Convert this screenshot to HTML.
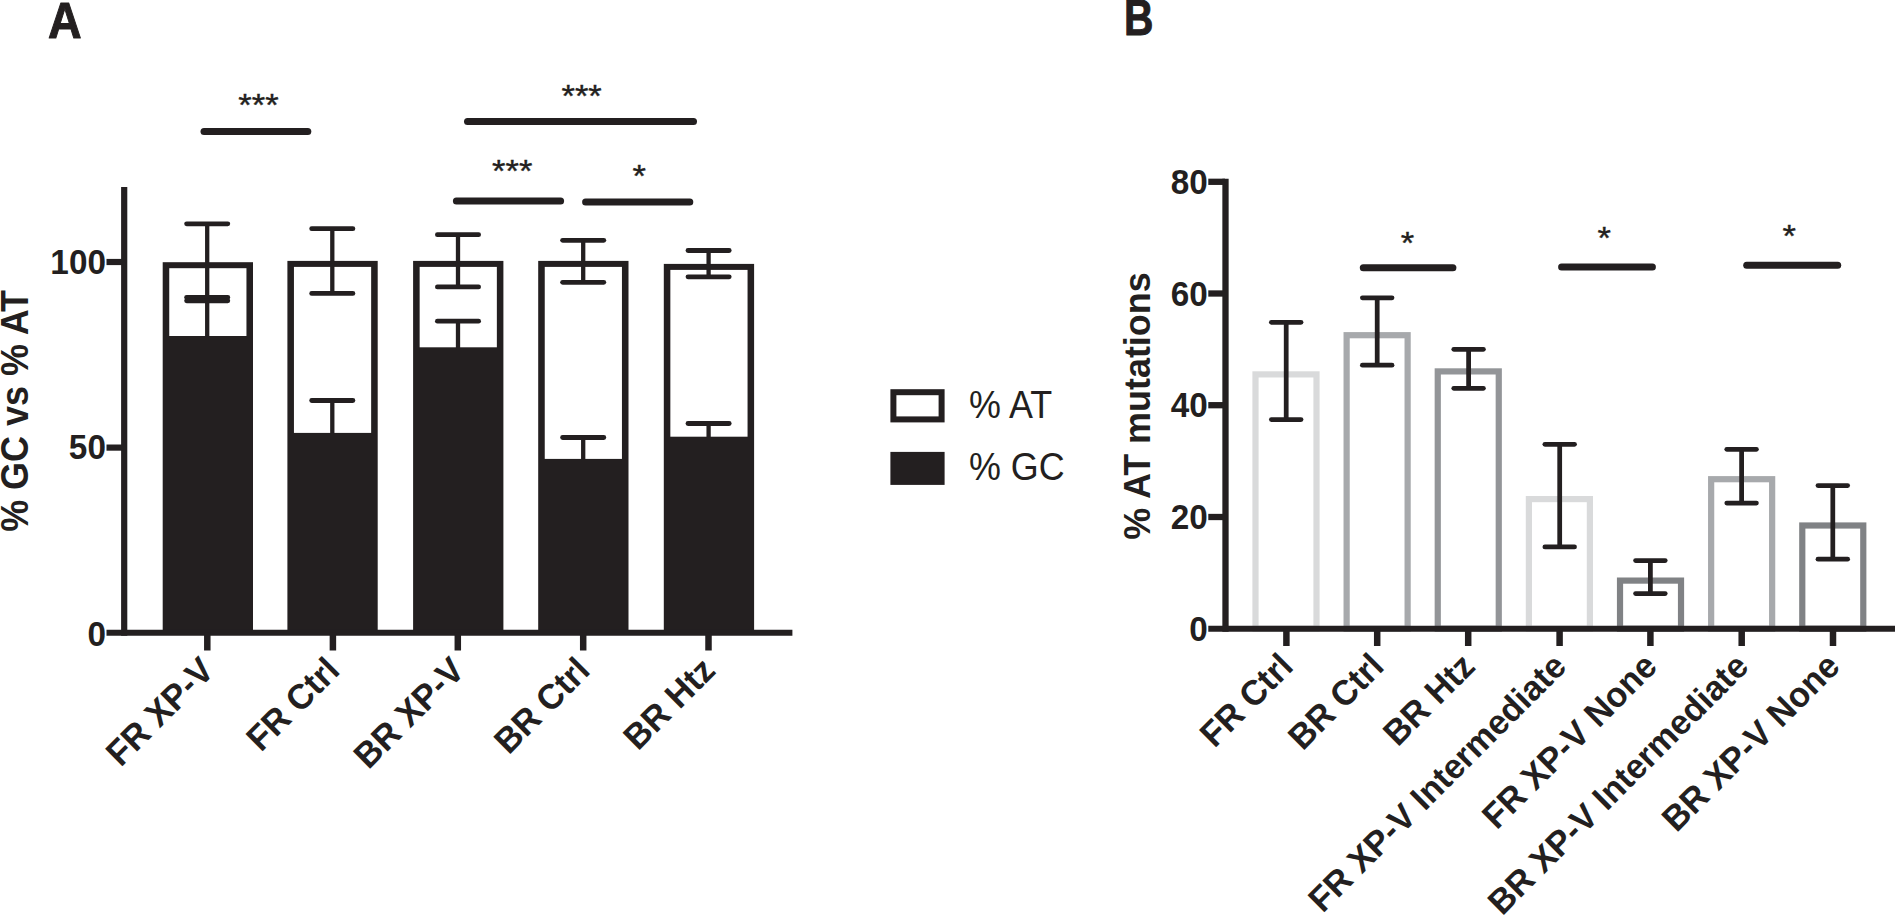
<!DOCTYPE html>
<html lang="en"><head><meta charset="utf-8"><title>Figure</title>
<style>
html,body{margin:0;padding:0;background:#fff;}
body{width:1895px;height:916px;overflow:hidden;}
svg{display:block;}
text{font-family:"Liberation Sans",sans-serif;fill:#231F20;}
</style></head><body>
<svg width="1895" height="916" viewBox="0 0 1895 916">
<rect x="0" y="0" width="1895" height="916" fill="#fff"/>
<rect x="162.70" y="262.20" width="90.30" height="370.60" fill="#231F20"/>
<rect x="169.25" y="268.20" width="77.20" height="67.80" fill="#fff"/>
<rect x="287.40" y="260.90" width="90.30" height="371.90" fill="#231F20"/>
<rect x="293.95" y="266.90" width="77.20" height="166.00" fill="#fff"/>
<rect x="413.10" y="260.90" width="90.30" height="371.90" fill="#231F20"/>
<rect x="419.65" y="266.90" width="77.20" height="80.40" fill="#fff"/>
<rect x="538.20" y="260.90" width="90.30" height="371.90" fill="#231F20"/>
<rect x="544.75" y="266.90" width="77.20" height="192.00" fill="#fff"/>
<rect x="663.80" y="263.90" width="90.30" height="368.90" fill="#231F20"/>
<rect x="670.35" y="269.90" width="77.20" height="166.80" fill="#fff"/>
<line x1="207.2" y1="223.8" x2="207.2" y2="336.5" stroke="#231F20" stroke-width="4.3" stroke-linecap="butt"/>
<line x1="186.6" y1="223.8" x2="227.79999999999998" y2="223.8" stroke="#231F20" stroke-width="4.8" stroke-linecap="round"/>
<line x1="186.6" y1="297.4" x2="227.79999999999998" y2="297.4" stroke="#231F20" stroke-width="4.8" stroke-linecap="round"/>
<line x1="186.6" y1="300.8" x2="227.79999999999998" y2="300.8" stroke="#231F20" stroke-width="4.8" stroke-linecap="round"/>
<line x1="332.3" y1="228.7" x2="332.3" y2="293.4" stroke="#231F20" stroke-width="4.3" stroke-linecap="butt"/>
<line x1="311.7" y1="228.7" x2="352.90000000000003" y2="228.7" stroke="#231F20" stroke-width="4.8" stroke-linecap="round"/>
<line x1="311.7" y1="293.4" x2="352.90000000000003" y2="293.4" stroke="#231F20" stroke-width="4.8" stroke-linecap="round"/>
<line x1="332.3" y1="400.5" x2="332.3" y2="433.5" stroke="#231F20" stroke-width="4.3" stroke-linecap="butt"/>
<line x1="311.7" y1="400.5" x2="352.90000000000003" y2="400.5" stroke="#231F20" stroke-width="4.8" stroke-linecap="round"/>
<line x1="458.0" y1="234.7" x2="458.0" y2="286.9" stroke="#231F20" stroke-width="4.3" stroke-linecap="butt"/>
<line x1="437.4" y1="234.7" x2="478.6" y2="234.7" stroke="#231F20" stroke-width="4.8" stroke-linecap="round"/>
<line x1="437.4" y1="286.9" x2="478.6" y2="286.9" stroke="#231F20" stroke-width="4.8" stroke-linecap="round"/>
<line x1="458.0" y1="321.2" x2="458.0" y2="348" stroke="#231F20" stroke-width="4.3" stroke-linecap="butt"/>
<line x1="437.4" y1="321.2" x2="478.6" y2="321.2" stroke="#231F20" stroke-width="4.8" stroke-linecap="round"/>
<line x1="583.2" y1="240.3" x2="583.2" y2="282.3" stroke="#231F20" stroke-width="4.3" stroke-linecap="butt"/>
<line x1="562.6" y1="240.3" x2="603.8000000000001" y2="240.3" stroke="#231F20" stroke-width="4.8" stroke-linecap="round"/>
<line x1="562.6" y1="282.3" x2="603.8000000000001" y2="282.3" stroke="#231F20" stroke-width="4.8" stroke-linecap="round"/>
<line x1="583.2" y1="437.5" x2="583.2" y2="459.5" stroke="#231F20" stroke-width="4.3" stroke-linecap="butt"/>
<line x1="562.6" y1="437.5" x2="603.8000000000001" y2="437.5" stroke="#231F20" stroke-width="4.8" stroke-linecap="round"/>
<line x1="708.6" y1="250.5" x2="708.6" y2="276.8" stroke="#231F20" stroke-width="4.3" stroke-linecap="butt"/>
<line x1="688.0" y1="250.5" x2="729.2" y2="250.5" stroke="#231F20" stroke-width="4.8" stroke-linecap="round"/>
<line x1="688.0" y1="276.8" x2="729.2" y2="276.8" stroke="#231F20" stroke-width="4.8" stroke-linecap="round"/>
<line x1="708.6" y1="423.5" x2="708.6" y2="437.3" stroke="#231F20" stroke-width="4.3" stroke-linecap="butt"/>
<line x1="688.0" y1="423.5" x2="729.2" y2="423.5" stroke="#231F20" stroke-width="4.8" stroke-linecap="round"/>
<line x1="124.2" y1="187" x2="124.2" y2="635.8" stroke="#231F20" stroke-width="6.2" stroke-linecap="butt"/>
<line x1="106.5" y1="632.8" x2="792.4" y2="632.8" stroke="#231F20" stroke-width="6" stroke-linecap="butt"/>
<line x1="106.5" y1="262" x2="124" y2="262" stroke="#231F20" stroke-width="6.2" stroke-linecap="butt"/>
<line x1="106.5" y1="447.6" x2="124" y2="447.6" stroke="#231F20" stroke-width="6.2" stroke-linecap="butt"/>
<line x1="207.3" y1="632.8" x2="207.3" y2="650.5" stroke="#231F20" stroke-width="6.5" stroke-linecap="butt"/>
<line x1="332.9" y1="632.8" x2="332.9" y2="650.5" stroke="#231F20" stroke-width="6.5" stroke-linecap="butt"/>
<line x1="457.8" y1="632.8" x2="457.8" y2="650.5" stroke="#231F20" stroke-width="6.5" stroke-linecap="butt"/>
<line x1="583.2" y1="632.8" x2="583.2" y2="650.5" stroke="#231F20" stroke-width="6.5" stroke-linecap="butt"/>
<line x1="708.5" y1="632.8" x2="708.5" y2="650.5" stroke="#231F20" stroke-width="6.5" stroke-linecap="butt"/>
<text transform="translate(105.9 273.9) scale(0.9524 1)" font-size="34.96" font-weight="bold" text-anchor="end">100</text>
<text transform="translate(105.9 459.4) scale(0.9524 1)" font-size="34.96" font-weight="bold" text-anchor="end">50</text>
<text transform="translate(105.9 645.6) scale(0.9524 1)" font-size="34.96" font-weight="bold" text-anchor="end">0</text>
<text transform="translate(28.0 410.9) rotate(-90) scale(0.9259 1)" font-size="38.88" font-weight="bold" text-anchor="middle">% GC vs % AT</text>
<text transform="translate(215.9 672.4) rotate(-45) scale(0.9615 1)" font-size="35.52" font-weight="bold" text-anchor="end">FR XP-V</text>
<text transform="translate(341.5 672.4) rotate(-45) scale(0.9709 1)" font-size="35.17" font-weight="bold" text-anchor="end">FR Ctrl</text>
<text transform="translate(466.4 672.4) rotate(-45) scale(0.9615 1)" font-size="35.52" font-weight="bold" text-anchor="end">BR XP-V</text>
<text transform="translate(591.8 672.4) rotate(-45) scale(0.9709 1)" font-size="35.17" font-weight="bold" text-anchor="end">BR Ctrl</text>
<text transform="translate(717.1 672.4) rotate(-45) scale(0.9709 1)" font-size="35.17" font-weight="bold" text-anchor="end">BR Htz</text>
<line x1="204.0" y1="131.4" x2="307.8" y2="131.4" stroke="#231F20" stroke-width="7" stroke-linecap="round"/>
<line x1="467.5" y1="121.5" x2="693.5" y2="121.5" stroke="#231F20" stroke-width="7" stroke-linecap="round"/>
<line x1="456.4" y1="201" x2="560.6" y2="201" stroke="#231F20" stroke-width="7" stroke-linecap="round"/>
<line x1="585.6" y1="202" x2="689.8" y2="202" stroke="#231F20" stroke-width="7" stroke-linecap="round"/>
<text transform="translate(258.5 116.07) scale(1 0.915)" font-size="34.5" font-weight="normal" text-anchor="middle" stroke="#231F20" stroke-width="0.45">***</text>
<text transform="translate(581.6 106.87) scale(1 0.915)" font-size="34.5" font-weight="normal" text-anchor="middle" stroke="#231F20" stroke-width="0.45">***</text>
<text transform="translate(512.2 182.37) scale(1 0.915)" font-size="34.5" font-weight="normal" text-anchor="middle" stroke="#231F20" stroke-width="0.45">***</text>
<text transform="translate(639.2 187.37) scale(1 0.915)" font-size="34.5" font-weight="normal" text-anchor="middle" stroke="#231F20" stroke-width="0.45">*</text>
<text transform="translate(48.0 37.6) scale(0.926 1)" font-size="50.3" font-weight="bold" stroke="#231F20" stroke-width="1" stroke-linejoin="round">A</text>
<text transform="translate(1123.9 35.0) scale(0.824 1)" font-size="49.4" font-weight="bold" stroke="#231F20" stroke-width="1" stroke-linejoin="round">B</text>
<rect x="893.40" y="392.20" width="48.20" height="27.20" fill="#fff" stroke="#231F20" stroke-width="6"/>
<rect x="890.40" y="451.90" width="54.20" height="33.00" fill="#231F20"/>
<text transform="translate(969 418.2) scale(0.9452 1)" font-size="37.98" font-weight="normal" text-anchor="start">% AT</text>
<text transform="translate(969 479.8) scale(0.9452 1)" font-size="37.98" font-weight="normal" text-anchor="start">% GC</text>
<rect x="1255.50" y="374.40" width="61.00" height="254.30" fill="#fff" stroke="#D9DADB" stroke-width="6.2"/>
<rect x="1346.63" y="335.20" width="61.00" height="293.50" fill="#fff" stroke="#A7A9AC" stroke-width="6.2"/>
<rect x="1437.76" y="371.40" width="61.00" height="257.30" fill="#fff" stroke="#939598" stroke-width="6.2"/>
<rect x="1528.89" y="499.10" width="61.00" height="129.60" fill="#fff" stroke="#D9DADB" stroke-width="6.2"/>
<rect x="1620.02" y="580.60" width="61.00" height="48.10" fill="#fff" stroke="#808285" stroke-width="6.2"/>
<rect x="1711.15" y="479.20" width="61.00" height="149.50" fill="#fff" stroke="#A7A9AC" stroke-width="6.2"/>
<rect x="1802.28" y="525.50" width="61.00" height="103.20" fill="#fff" stroke="#808285" stroke-width="6.2"/>
<line x1="1286.2" y1="322.3" x2="1286.2" y2="419.6" stroke="#231F20" stroke-width="4.75" stroke-linecap="butt"/>
<line x1="1271.375" y1="322.3" x2="1301.025" y2="322.3" stroke="#231F20" stroke-width="4.75" stroke-linecap="round"/>
<line x1="1271.375" y1="419.6" x2="1301.025" y2="419.6" stroke="#231F20" stroke-width="4.75" stroke-linecap="round"/>
<line x1="1377.2" y1="297.8" x2="1377.2" y2="365.2" stroke="#231F20" stroke-width="4.75" stroke-linecap="butt"/>
<line x1="1362.375" y1="297.8" x2="1392.025" y2="297.8" stroke="#231F20" stroke-width="4.75" stroke-linecap="round"/>
<line x1="1362.375" y1="365.2" x2="1392.025" y2="365.2" stroke="#231F20" stroke-width="4.75" stroke-linecap="round"/>
<line x1="1468.6" y1="349.3" x2="1468.6" y2="388.3" stroke="#231F20" stroke-width="4.75" stroke-linecap="butt"/>
<line x1="1453.7749999999999" y1="349.3" x2="1483.425" y2="349.3" stroke="#231F20" stroke-width="4.75" stroke-linecap="round"/>
<line x1="1453.7749999999999" y1="388.3" x2="1483.425" y2="388.3" stroke="#231F20" stroke-width="4.75" stroke-linecap="round"/>
<line x1="1559.7" y1="444.3" x2="1559.7" y2="546.9" stroke="#231F20" stroke-width="4.75" stroke-linecap="butt"/>
<line x1="1544.875" y1="444.3" x2="1574.525" y2="444.3" stroke="#231F20" stroke-width="4.75" stroke-linecap="round"/>
<line x1="1544.875" y1="546.9" x2="1574.525" y2="546.9" stroke="#231F20" stroke-width="4.75" stroke-linecap="round"/>
<line x1="1650.4" y1="560.5" x2="1650.4" y2="593.6" stroke="#231F20" stroke-width="4.75" stroke-linecap="butt"/>
<line x1="1635.575" y1="560.5" x2="1665.2250000000001" y2="560.5" stroke="#231F20" stroke-width="4.75" stroke-linecap="round"/>
<line x1="1635.575" y1="593.6" x2="1665.2250000000001" y2="593.6" stroke="#231F20" stroke-width="4.75" stroke-linecap="round"/>
<line x1="1741.6" y1="449.3" x2="1741.6" y2="503.1" stroke="#231F20" stroke-width="4.75" stroke-linecap="butt"/>
<line x1="1726.7749999999999" y1="449.3" x2="1756.425" y2="449.3" stroke="#231F20" stroke-width="4.75" stroke-linecap="round"/>
<line x1="1726.7749999999999" y1="503.1" x2="1756.425" y2="503.1" stroke="#231F20" stroke-width="4.75" stroke-linecap="round"/>
<line x1="1832.8" y1="485.5" x2="1832.8" y2="559.2" stroke="#231F20" stroke-width="4.75" stroke-linecap="butt"/>
<line x1="1817.975" y1="485.5" x2="1847.625" y2="485.5" stroke="#231F20" stroke-width="4.75" stroke-linecap="round"/>
<line x1="1817.975" y1="559.2" x2="1847.625" y2="559.2" stroke="#231F20" stroke-width="4.75" stroke-linecap="round"/>
<line x1="1225.5" y1="178.7" x2="1225.5" y2="631.7" stroke="#231F20" stroke-width="6.3" stroke-linecap="butt"/>
<line x1="1208.3" y1="628.7" x2="1895" y2="628.7" stroke="#231F20" stroke-width="6" stroke-linecap="butt"/>
<line x1="1208.3" y1="181.8" x2="1225" y2="181.8" stroke="#231F20" stroke-width="6.3" stroke-linecap="butt"/>
<line x1="1208.3" y1="293.5" x2="1225" y2="293.5" stroke="#231F20" stroke-width="6.3" stroke-linecap="butt"/>
<line x1="1208.3" y1="405.2" x2="1225" y2="405.2" stroke="#231F20" stroke-width="6.3" stroke-linecap="butt"/>
<line x1="1208.3" y1="517.0" x2="1225" y2="517.0" stroke="#231F20" stroke-width="6.3" stroke-linecap="butt"/>
<line x1="1286.4" y1="628.7" x2="1286.4" y2="646" stroke="#231F20" stroke-width="6.5" stroke-linecap="butt"/>
<line x1="1377.2" y1="628.7" x2="1377.2" y2="646" stroke="#231F20" stroke-width="6.5" stroke-linecap="butt"/>
<line x1="1468.2" y1="628.7" x2="1468.2" y2="646" stroke="#231F20" stroke-width="6.5" stroke-linecap="butt"/>
<line x1="1559.6" y1="628.7" x2="1559.6" y2="646" stroke="#231F20" stroke-width="6.5" stroke-linecap="butt"/>
<line x1="1650.4" y1="628.7" x2="1650.4" y2="646" stroke="#231F20" stroke-width="6.5" stroke-linecap="butt"/>
<line x1="1741.7" y1="628.7" x2="1741.7" y2="646" stroke="#231F20" stroke-width="6.5" stroke-linecap="butt"/>
<line x1="1833.0" y1="628.7" x2="1833.0" y2="646" stroke="#231F20" stroke-width="6.5" stroke-linecap="butt"/>
<text transform="translate(1207.8 193.9) scale(0.9524 1)" font-size="34.96" font-weight="bold" text-anchor="end">80</text>
<text transform="translate(1207.8 305.6) scale(0.9524 1)" font-size="34.96" font-weight="bold" text-anchor="end">60</text>
<text transform="translate(1207.8 417.4) scale(0.9524 1)" font-size="34.96" font-weight="bold" text-anchor="end">40</text>
<text transform="translate(1207.8 529.1) scale(0.9524 1)" font-size="34.96" font-weight="bold" text-anchor="end">20</text>
<text transform="translate(1207.8 640.8) scale(0.9524 1)" font-size="34.96" font-weight="bold" text-anchor="end">0</text>
<text transform="translate(1150 406) rotate(-90) scale(0.9615 1)" font-size="37.37" font-weight="bold" text-anchor="middle">% AT mutations</text>
<text transform="translate(1295.0 668.3) rotate(-45) scale(0.9709 1)" font-size="35.17" font-weight="bold" text-anchor="end">FR Ctrl</text>
<text transform="translate(1385.8 668.3) rotate(-45) scale(0.9709 1)" font-size="35.17" font-weight="bold" text-anchor="end">BR Ctrl</text>
<text transform="translate(1476.8 668.3) rotate(-45) scale(0.9709 1)" font-size="35.17" font-weight="bold" text-anchor="end">BR Htz</text>
<text transform="translate(1568.2 668.3) rotate(-45) scale(0.9852 1)" font-size="34.66" font-weight="bold" text-anchor="end">FR XP-V Intermediate</text>
<text transform="translate(1659.0 668.3) rotate(-45) scale(0.9709 1)" font-size="35.17" font-weight="bold" text-anchor="end">FR XP-V None</text>
<text transform="translate(1750.3 668.3) rotate(-45) scale(0.9852 1)" font-size="34.66" font-weight="bold" text-anchor="end">BR XP-V Intermediate</text>
<text transform="translate(1841.6 668.3) rotate(-45) scale(0.9709 1)" font-size="35.17" font-weight="bold" text-anchor="end">BR XP-V None</text>
<line x1="1363.3" y1="267.7" x2="1452.9" y2="267.7" stroke="#231F20" stroke-width="7" stroke-linecap="round"/>
<line x1="1561.6" y1="266.9" x2="1652.4" y2="266.9" stroke="#231F20" stroke-width="7" stroke-linecap="round"/>
<line x1="1746.7" y1="265.3" x2="1837.7" y2="265.3" stroke="#231F20" stroke-width="7" stroke-linecap="round"/>
<text transform="translate(1407.5 254.07) scale(1 0.915)" font-size="34.5" font-weight="normal" text-anchor="middle" stroke="#231F20" stroke-width="0.45">*</text>
<text transform="translate(1604.3 249.07) scale(1 0.915)" font-size="34.5" font-weight="normal" text-anchor="middle" stroke="#231F20" stroke-width="0.45">*</text>
<text transform="translate(1789.3 247.47) scale(1 0.915)" font-size="34.5" font-weight="normal" text-anchor="middle" stroke="#231F20" stroke-width="0.45">*</text>
</svg>
</body></html>
